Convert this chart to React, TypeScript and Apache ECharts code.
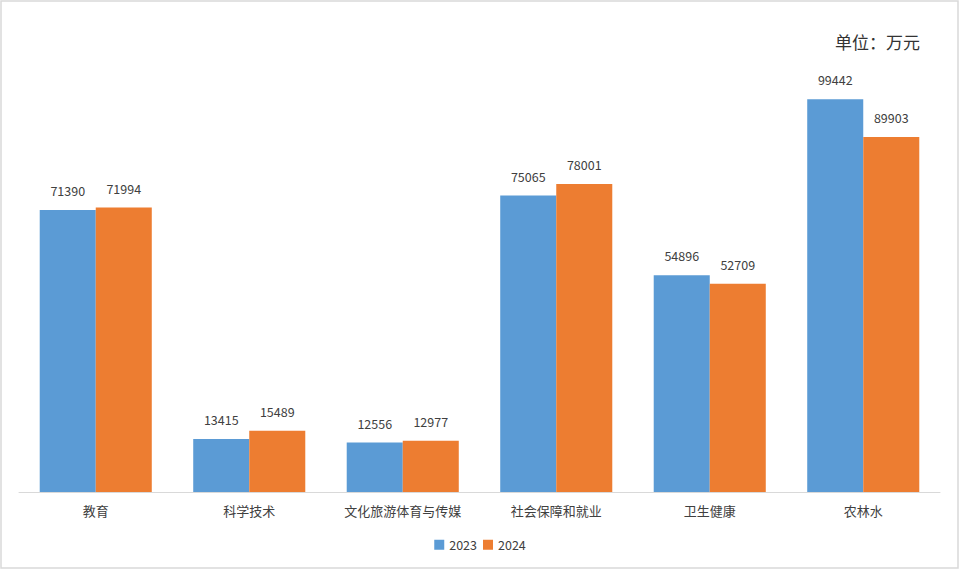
import React, { useEffect, useRef } from "react";
import * as echarts from "echarts";

const categories = ["教育", "科学技术", "文化旅游体育与传媒", "社会保障和就业", "卫生健康", "农林水"];
const values2023 = [71390, 13415, 12556, 75065, 54896, 99442];
const values2024 = [71994, 15489, 12977, 78001, 52709, 89903];
const seriesNames = ["2023", "2024"];
const unitText = "单位：万元";

export default function App() {
  const ref = useRef<HTMLDivElement>(null);
  useEffect(() => {
    if (!ref.current) return;
    const chart = echarts.init(ref.current, null, { renderer: "svg" });
    const font = "'Noto Sans CJK SC', 'Noto Sans', sans-serif";
    const labelStyle = {
      show: true,
      position: "top" as const,
      distance: 13,
      fontSize: 12.5,
      color: "#404040",
      fontFamily: font,
    };
    chart.setOption({
      animation: false,
      backgroundColor: "#fff",
      textStyle: { fontFamily: font },
      graphic: [
        {
          type: "rect",
          shape: { x: 1, y: 1, width: 957, height: 567 },
          style: { fill: "none", stroke: "#d9d9d9", lineWidth: 1.5 },
          silent: true,
        },
        {
          type: "text",
          right: 40,
          top: 33,
          style: { text: unitText, fontSize: 17, fill: "#333", fontFamily: font },
        },
      ],
      legend: {
        bottom: 14,
        left: "center",
        itemWidth: 10,
        itemHeight: 10,
        itemGap: 6,
        icon: "rect",
        textStyle: { fontSize: 12.5, color: "#404040" },
        data: seriesNames,
      },
      grid: { left: 19, right: 20, top: 97, bottom: 78, containLabel: false },
      xAxis: {
        type: "category",
        data: categories,
        axisLine: { lineStyle: { color: "#d9d9d9", width: 1 } },
        axisTick: { show: false },
        axisLabel: { fontSize: 13, color: "#404040", margin: 12, interval: 0 },
      },
      yAxis: {
        type: "value",
        min: 0,
        max: 100000,
        show: false,
        splitLine: { show: false },
      },
      series: [
        {
          name: seriesNames[0],
          type: "bar",
          data: values2023,
          barGap: "0%",
          barCategoryGap: "27%",
          itemStyle: { color: "#5b9bd5" },
          label: labelStyle,
        },
        {
          name: seriesNames[1],
          type: "bar",
          data: values2024,
          itemStyle: { color: "#ed7d31" },
          label: labelStyle,
        },
      ],
    });
    return () => chart.dispose();
  }, []);
  return (
    <div
      ref={ref}
      style={{ position: "fixed", left: 0, top: 0, width: 960, height: 570 }}
    />
  );
}
